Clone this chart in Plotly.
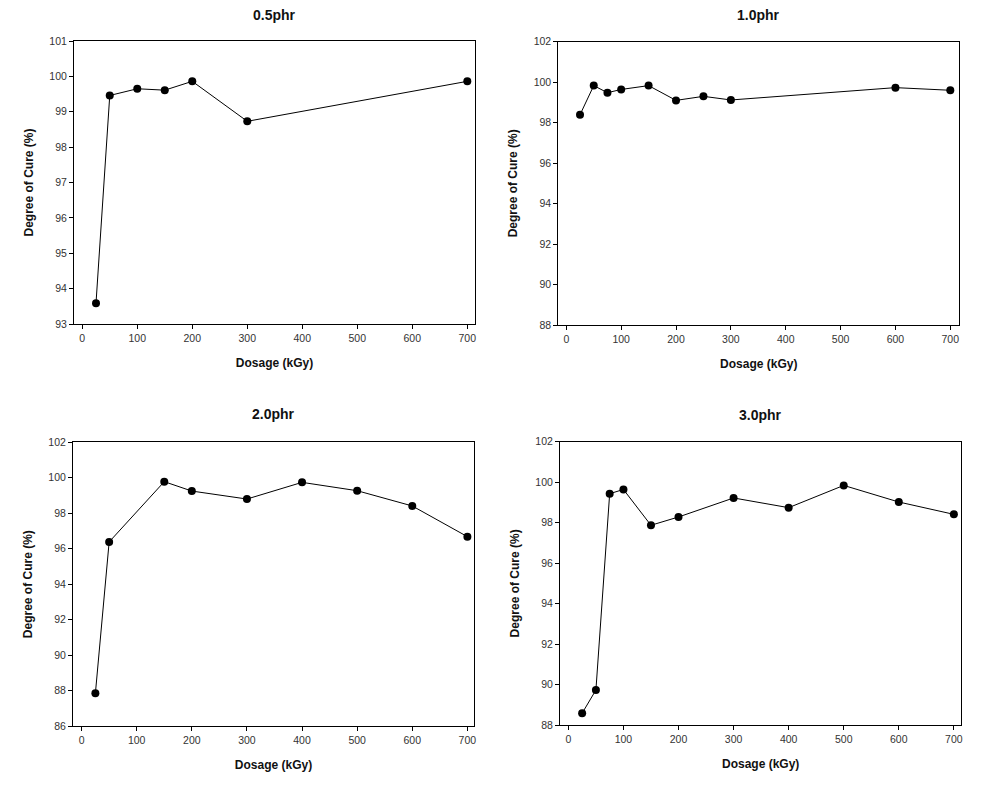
import plotly.graph_objects as go

titles = ["0.5phr", "1.0phr", "2.0phr", "3.0phr"]

dose_05 = [25, 50, 100, 150, 200, 300, 700]
cure_05 = [93.59, 99.46, 99.65, 99.61, 99.86, 98.73, 99.86]

dose_10 = [25, 50, 75, 100, 150, 200, 250, 300, 600, 700]
cure_10 = [98.39, 99.83, 99.48, 99.64, 99.83, 99.10, 99.30, 99.12, 99.73, 99.60]

dose_20 = [25, 50, 150, 200, 300, 400, 500, 600, 700]
cure_20 = [87.84, 96.38, 99.78, 99.25, 98.80, 99.74, 99.27, 98.41, 96.68]

dose_30 = [25, 50, 75, 100, 150, 200, 300, 400, 500, 600, 700]
cure_30 = [88.58, 89.73, 99.43, 99.64, 97.87, 98.28, 99.22, 98.74, 99.84, 99.02, 98.41]

y_ranges = [[93, 101], [88, 102], [86, 102], [88, 102]]
y_dtick = [1, 2, 2, 2]
x_ticks = [0, 100, 200, 300, 400, 500, 600, 700]

OFF = 8  # page body margin
W, H = 983 - OFF, 785 - OFF
# pixel boxes in window coords: left, right, top, bottom
boxes = [
    (74, 475, 41, 324),
    (558.3, 959.3, 41.7, 325),
    (73, 474, 442.3, 726),
    (560, 961.3, 441.7, 725),
]
title_y_px = [15.5, 15.5, 414, 415]
x_ranges = [[-15, 714], [-14.6, 716.4], [-15.6, 712], [-15.2, 713.5]]

series = [(dose_05, cure_05), (dose_10, cure_10), (dose_20, cure_20), (dose_30, cure_30)]

fig = go.Figure()
font_fam = "Liberation Sans, Arial, sans-serif"
annotations = []
for i, ((xs, ys), box) in enumerate(zip(series, boxes)):
    n = "" if i == 0 else str(i + 1)
    fig.add_trace(go.Scatter(
        x=xs, y=ys, mode="lines+markers",
        line=dict(color="black", width=1),
        marker=dict(color="black", size=8),
        xaxis="x" + n, yaxis="y" + n, showlegend=False, cliponaxis=False,
    ))
    l, r, t, b = [v - OFF for v in box]
    xd = [l / W, r / W]
    yd = [1 - b / H, 1 - t / H]
    common = dict(showline=True, linecolor="black", linewidth=1, mirror=True,
                  ticks="outside", ticklen=4, tickcolor="black", tickwidth=1,
                  showgrid=False, zeroline=False, automargin=False,
                  tickfont=dict(family=font_fam, size=10.5, color="#333333"))
    fig.update_layout(**{
        "xaxis" + n: dict(domain=xd, range=x_ranges[i], tickvals=x_ticks,
                          anchor="y" + n,
                          title=dict(text="<b>Dosage (kGy)</b>", standoff=16,
                                     font=dict(family=font_fam, size=12, color="#111111")),
                          **common),
        "yaxis" + n: dict(domain=yd, range=y_ranges[i], dtick=y_dtick[i],
                          anchor="x" + n,
                          title=dict(text="<b>Degree of Cure (%)</b>", standoff=13,
                                     font=dict(family=font_fam, size=12, color="#111111")),
                          **common),
    })
    annotations.append(dict(
        text="<b>" + titles[i] + "</b>", x=(l + r) / 2 / W, y=1 - (title_y_px[i] - OFF) / H,
        xref="paper", yref="paper", showarrow=False, xanchor="center", yanchor="middle",
        font=dict(family=font_fam, size=14, color="#111111"),
    ))

fig.update_layout(
    width=W, height=H, margin=dict(l=0, r=0, t=0, b=0),
    plot_bgcolor="white", paper_bgcolor="white",
    annotations=annotations,
)
fig.write_html("out.html")
